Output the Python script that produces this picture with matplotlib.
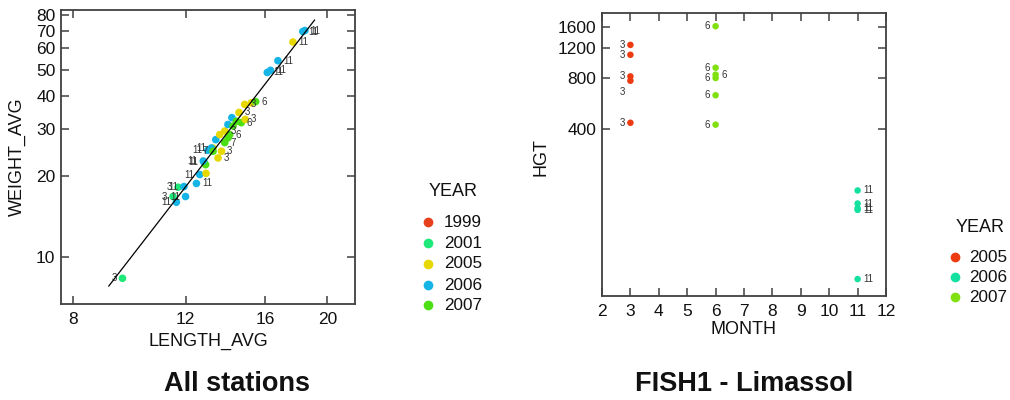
import matplotlib
matplotlib.use("Agg")
import matplotlib.pyplot as plt
from matplotlib.lines import Line2D
import numpy as np

plt.rcParams['font.family'] = ['Liberation Sans', 'DejaVu Sans']

# ---------------- Left panel data (All stations) ----------------
length_avg = [9.56, 11.47, 11.68, 11.61, 11.93, 12.00, 12.48, 12.63, 12.92, 12.83,
              12.90, 13.00, 13.25, 13.17, 13.25, 13.66, 13.49, 12.79, 13.38, 13.57,
              13.98, 13.82, 13.82, 14.07, 13.98, 14.24, 14.18, 14.41, 14.67, 14.88,
              14.55, 14.85, 15.21, 15.45, 16.11, 16.30, 16.74, 17.67, 18.31, 18.45]
weight_avg = [8.32, 16.8, 18.2, 16.0, 18.3, 16.8, 18.8, 20.3, 20.5, 22.6,
              22.1, 25.0, 25.5, 25.5, 24.8, 24.8, 23.4, 22.8, 27.4, 28.6,
              27.8, 26.7, 29.5, 28.6, 31.2, 30.8, 33.1, 32.1, 31.7, 32.6,
              34.6, 37.1, 37.6, 38.0, 48.8, 49.7, 54.0, 63.4, 69.4, 70.0]
year_left = [2001, 2001, 2001, 2006, 2006, 2006, 2006, 2006, 2005, 2006,
             2007, 2006, 2005, 2006, 2007, 2005, 2005, 2006, 2006, 2005,
             2007, 2007, 2005, 2007, 2006, 2007, 2006, 2007, 2007, 2005,
             2005, 2005, 2005, 2007, 2006, 2006, 2006, 2005, 2006, 2006]
month_left = ["3", "3", "3", "11", "11", "11", "11", "11", "", "11",
              "", "11", "", "11", "7", "3", "3", "11", "", "",
              "", "7", "3", "6", "", "", "", "", "6", "3",
              "3", "3", "", "6", "11", "11", "11", "11", "11", "11"]
side_left = ["l", "l", "l", "l", "l", "l", "r", "l", "r", "l",
             "l", "l", "r", "l", "l", "r", "r", "l", "r", "r",
             "r", "r", "r", "r", "r", "r", "r", "r", "r", "r",
             "r", "r", "r", "r", "r", "r", "r", "r", "r", "r"]
years_legend_left = [1999, 2001, 2005, 2006, 2007]
colors_left = ['#e8401c', '#1ee878', '#e6d800', '#14b4e6', '#4ce014']

# regression line W = a * L^b
fit_a = 0.00860
fit_b = 3.083
fit_x_range = [9.10, 19.1]

x_ticks_left = [8, 12, 16, 20]
y_ticks_left = [10, 20, 30, 40, 50, 60, 70, 80]

# ---------------- Right panel data (FISH1 - Limassol) ----------------
month_right = [3, 3, 3, 3, 3, 6, 6, 6, 6, 6, 6, 11, 11, 11, 11, 11]
hgt_right = [1252, 1094, 815, 768, 433, 1615, 917, 834, 797, 630, 422, 172, 144, 135, 132, 51.4]
year_right = [2005, 2005, 2005, 2005, 2005, 2007, 2007, 2007, 2007, 2007, 2007,
              2006, 2006, 2006, 2006, 2006]
label_right = ["3", "3", "3", "", "3", "6", "6", "6", "6", "6", "6",
               "11", "11", "11", "11", "11"]
side_right = ["l", "l", "l", "l", "l", "l", "l", "r", "l", "l", "l", "r", "r", "r", "r", "r"]
# label with no visible point
label_only_month = [3]
label_only_hgt = [656]
label_only_text = ["3"]
years_legend_right = [2005, 2006, 2007]
colors_right = ['#ee3a10', '#14e0a0', '#80e010']

x_ticks_right = list(range(2, 13))
y_ticks_right = [400, 800, 1200, 1600]

W, H = 1010, 400
fig = plt.figure(figsize=(W / 100, H / 100), dpi=100)

def fx(px):
    return px / W

def fy(py):
    return 1 - py / H

spine_col = '#404040'
TICK_FS = 12.5
LAB_FS = 13

def style_axes(ax):
    for s in ax.spines.values():
        s.set_color(spine_col)
        s.set_linewidth(1.3)
    ax.tick_params(which='both', direction='in', length=6, width=1.1, color=spine_col,
                   top=True, right=True, labelsize=TICK_FS, labelcolor='#111111')
    ax.tick_params(axis='x', pad=5.5)
    ax.tick_params(axis='y', pad=4)
    ax.minorticks_off()

# ---------------- Left axes ----------------
axL = fig.add_axes([fx(61), fy(304), fx(355) - fx(61), fy(10) - fy(304)])
axL.set_xscale('log')
axL.set_yscale('log')
cmapL = dict(zip(years_legend_left, colors_left))
axL.scatter(length_avg, weight_avg, c=[cmapL[y] for y in year_left], s=30,
            edgecolors='none', zorder=3)
for L, Wt, m, sd in zip(length_avg, weight_avg, month_left, side_left):
    if not m:
        continue
    off = (-4, 0) if sd == 'l' else (4, 0)
    axL.annotate(m, (L, Wt), xytext=off, textcoords='offset points',
                 ha='right' if sd == 'l' else 'left', va='center',
                 fontsize=7, color='#333333', zorder=4)
fx_line = np.array(fit_x_range)
axL.plot(fx_line, fit_a * fx_line ** fit_b, color='black', lw=0.9, zorder=5)
axL.set_xlim(7.66, 22.1)
axL.set_ylim(6.67, 83.5)
axL.set_xticks(x_ticks_left)
axL.set_xticklabels([str(v) for v in x_ticks_left])
axL.set_yticks(y_ticks_left)
axL.set_yticklabels([str(v) for v in y_ticks_left])
style_axes(axL)

# ---------------- Right axes ----------------
axR = fig.add_axes([fx(602), fy(296), fx(886) - fx(602), fy(13) - fy(296)])
axR.set_yscale('log')
cmapR = dict(zip(years_legend_right, colors_right))
axR.scatter(month_right, hgt_right, c=[cmapR[y] for y in year_right], s=22,
            edgecolors='none', zorder=3)
for m, h, t, sd in zip(month_right, hgt_right, label_right, side_right):
    if not t:
        continue
    off = (-4, 0) if sd == 'l' else (4, 0)
    axR.annotate(t, (m, h), xytext=off, textcoords='offset points',
                 ha='right' if sd == 'l' else 'left', va='center',
                 fontsize=7, color='#333333', zorder=4)
for m, h, t in zip(label_only_month, label_only_hgt, label_only_text):
    axR.annotate(t, (m, h), xytext=(-4, 0), textcoords='offset points',
                 ha='right', va='center', fontsize=7, color='#333333')
axR.set_xlim(2, 12)
axR.set_ylim(40.8, 1934)
axR.set_xticks(x_ticks_right)
axR.set_xticklabels([str(v) for v in x_ticks_right])
axR.set_yticks(y_ticks_right)
axR.set_yticklabels([str(v) for v in y_ticks_right])
style_axes(axR)

# ---------------- Axis labels ----------------
lab_kw = dict(fontsize=LAB_FS, color='#111111')
fig.text(fx(208), fy(341), 'LENGTH_AVG', ha='center', va='center', **lab_kw)
fig.text(fx(17), fy(157), 'WEIGHT_AVG', ha='center', va='center', rotation=90, **lab_kw)
fig.text(fx(743), fy(330), 'MONTH', ha='center', va='center', **lab_kw)
fig.text(fx(541), fy(157), 'HGT', ha='center', va='center', rotation=90, **lab_kw)

# ---------------- Legends ----------------
def draw_legend(title_x, title_y, mark_x, text_x, ys, years, colors, ms):
    fig.text(fx(title_x), fy(title_y), 'YEAR', ha='center', va='center',
             fontsize=13, color='#111111')
    for yv, yr, c in zip(ys, years, colors):
        fig.add_artist(Line2D([fx(mark_x)], [fy(yv)], marker='o', markersize=ms,
                              color=c, markeredgecolor='none', linestyle='none',
                              transform=fig.transFigure))
        fig.text(fx(text_x), fy(yv), str(yr), ha='left', va='center',
                 fontsize=12.3, color='#111111')

draw_legend(453, 192, 428, 444, [222, 243, 264, 285, 305],
            years_legend_left, colors_left, 7)
draw_legend(980, 227, 955, 969, [257, 277, 297],
            years_legend_right, colors_right, 7)

# ---------------- Titles ----------------
fig.text(fx(237), fy(384), 'All stations', ha='center', va='center',
         fontsize=19.5, fontweight='bold', color='#111111')
fig.text(fx(744), fy(384), 'FISH1 - Limassol', ha='center', va='center',
         fontsize=19.5, fontweight='bold', color='#111111')

fig.savefig('out.png', dpi=100)
